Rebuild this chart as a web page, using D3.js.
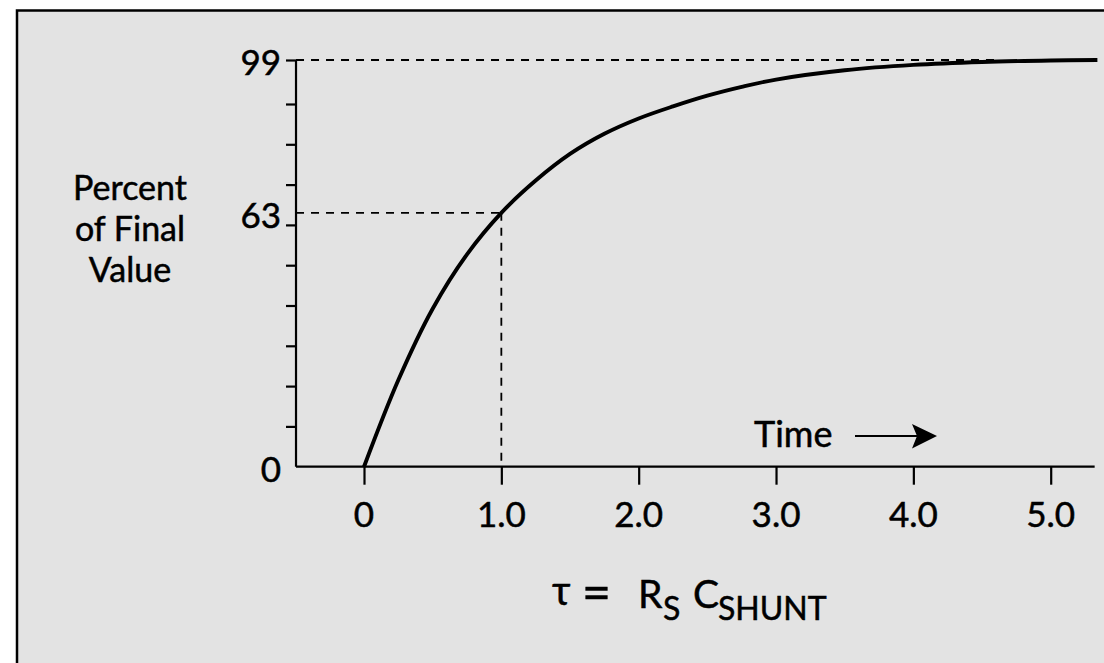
<!DOCTYPE html>
<html>
<head>
<meta charset="utf-8">
<script src="https://cdn.jsdelivr.net/npm/d3@7"></script>
<style>
  html, body { margin: 0; padding: 0; background: #ffffff; }
  svg { display: block; }
  text { font-family: Lato, "Open Sans", sans-serif; fill: #000; stroke: #000; stroke-width: 0.5; }
</style>
</head>
<body>
<svg id="chart" width="1104" height="663"></svg>
<script>
// ---- data ----
const curveTime    = [0, 0.25, 0.5, 0.75, 1.0, 1.25, 1.5, 1.75, 2.0, 2.25, 2.5, 2.75, 3.0, 3.5, 4.0, 4.5, 5.0, 5.34];
const curvePercent = [0, 21.5, 39.2, 52.7, 63, 71, 77.6, 82.6, 86.4, 89.4, 91.7, 93.5, 95.0, 96.9, 98.0, 98.6, 98.9, 99.0];
const xTickValues = [0, 1, 2, 3, 4, 5];
const xTickLabels = ["0", "1.0", "2.0", "3.0", "4.0", "5.0"];
const yMinorTicks = [10, 20, 30, 40, 50, 60, 70, 80, 90, 99];
const yLabelValues = [0, 63, 99];
const yLabelTexts = ["0", "63", "99"];
const markerTime = 1.0;      // one time constant
const markerPercent = 63;
const finalPercent = 99;
const finalTime = 4.6;
const yTitleLines = ["Percent", "of Final", "Value"];

// ---- scales ----
const x = d3.scaleLinear().domain([0, 5]).range([364, 1050.7]);
const y = d3.scaleLinear().domain([0, 90, 99]).range([466.7, 104, 60]);
const xMin = -0.495, xMax = 5.32;

const svg = d3.select("#chart");

// panel
svg.append("rect")
  .attr("x", 17).attr("y", 10.5)
  .attr("width", 1110).attr("height", 680)
  .attr("fill", "#e3e3e3")
  .attr("stroke", "#000").attr("stroke-width", 2.5);

// dashed guides
const dash = "8,7";
function guide(x1, y1, x2, y2) {
  svg.append("line")
    .attr("x1", x1).attr("x2", x2).attr("y1", y1).attr("y2", y2)
    .attr("stroke", "#000").attr("stroke-width", 1.8).attr("stroke-dasharray", dash);
}
guide(x(xMin), y(finalPercent), x(finalTime), y(finalPercent));
guide(x(xMin), y(markerPercent), x(markerTime), y(markerPercent));
guide(x(markerTime), y(markerPercent), x(markerTime), y(0));

// y axis (ticks only, labels drawn separately)
const yAxis = d3.axisLeft(y).tickValues(yMinorTicks).tickSize(10).tickFormat("").tickSizeOuter(0);
const gy = svg.append("g").attr("transform", `translate(${x(xMin)},0)`).call(yAxis);
gy.select(".domain").remove();
gy.selectAll(".tick line").attr("stroke", "#000").attr("stroke-width", 2.2);
svg.append("line")
  .attr("x1", x(xMin)).attr("x2", x(xMin))
  .attr("y1", y(0)).attr("y2", y(99))
  .attr("stroke", "#000").attr("stroke-width", 2.2);

svg.selectAll(".ylab").data(yLabelValues).enter().append("text")
  .attr("class", "ylab")
  .attr("x", 281)
  .attr("y", d => y(d) + 15)
  .attr("text-anchor", "end")
  .attr("font-size", 35)
  .text((d, i) => yLabelTexts[i]);

// x axis
const xAxis = d3.axisBottom(x).tickValues(xTickValues).tickSize(18).tickFormat("").tickSizeOuter(0);
const gx = svg.append("g").attr("transform", `translate(0,${y(0)})`).call(xAxis);
gx.select(".domain").remove();
gx.selectAll(".tick line").attr("stroke", "#000").attr("stroke-width", 2.2);
svg.append("line")
  .attr("x1", x(xMin)).attr("x2", x(xMax))
  .attr("y1", y(0)).attr("y2", y(0))
  .attr("stroke", "#000").attr("stroke-width", 2.2);

svg.selectAll(".xlab").data(xTickValues).enter().append("text")
  .attr("class", "xlab")
  .attr("x", d => x(d))
  .attr("y", 526.5)
  .attr("text-anchor", "middle")
  .attr("font-size", 35)
  .text((d, i) => xTickLabels[i]);

// curve
const pts = curveTime.map((t, i) => [t, curvePercent[i]]);
svg.append("path")
  .datum(pts)
  .attr("fill", "none")
  .attr("stroke", "#000")
  .attr("stroke-width", 3.9)
  .attr("d", d3.line().x(d => x(d[0])).y(d => y(d[1])).curve(d3.curveCatmullRom.alpha(0.5)));

// y title (one text, three lines)
const yt = svg.append("text")
  .attr("x", 130).attr("y", 200)
  .attr("text-anchor", "middle")
  .attr("font-size", 34);
yt.selectAll("tspan").data(yTitleLines).enter().append("tspan")
  .attr("x", 130)
  .attr("dy", (d, i) => i === 0 ? 0 : 41)
  .text(d => d);

// Time arrow
svg.append("text")
  .attr("x", 754).attr("y", 446.5)
  .attr("font-size", 36)
  .text("Time");
svg.append("line")
  .attr("x1", 855).attr("x2", 918)
  .attr("y1", 436).attr("y2", 436)
  .attr("stroke", "#000").attr("stroke-width", 1.8);
svg.append("path")
  .attr("d", "M912,424 L937,436 L912,448.5 L917,436 Z")
  .attr("fill", "#000");

// formula
const f = svg.append("g");
f.append("text").attr("x", 552).attr("y", 605).attr("font-size", 40).text("τ");
f.append("text").attr("x", 582).attr("y", 610).attr("font-size", 50).text("=");
f.append("text").attr("x", 638).attr("y", 608).attr("font-size", 39).text("R");
f.append("text").attr("x", 663).attr("y", 620).attr("font-size", 32).text("S");
f.append("text").attr("x", 693).attr("y", 608).attr("font-size", 39).text("C");
f.append("text").attr("x", 718).attr("y", 620).attr("font-size", 32).text("SHUNT");
</script>
</body>
</html>
